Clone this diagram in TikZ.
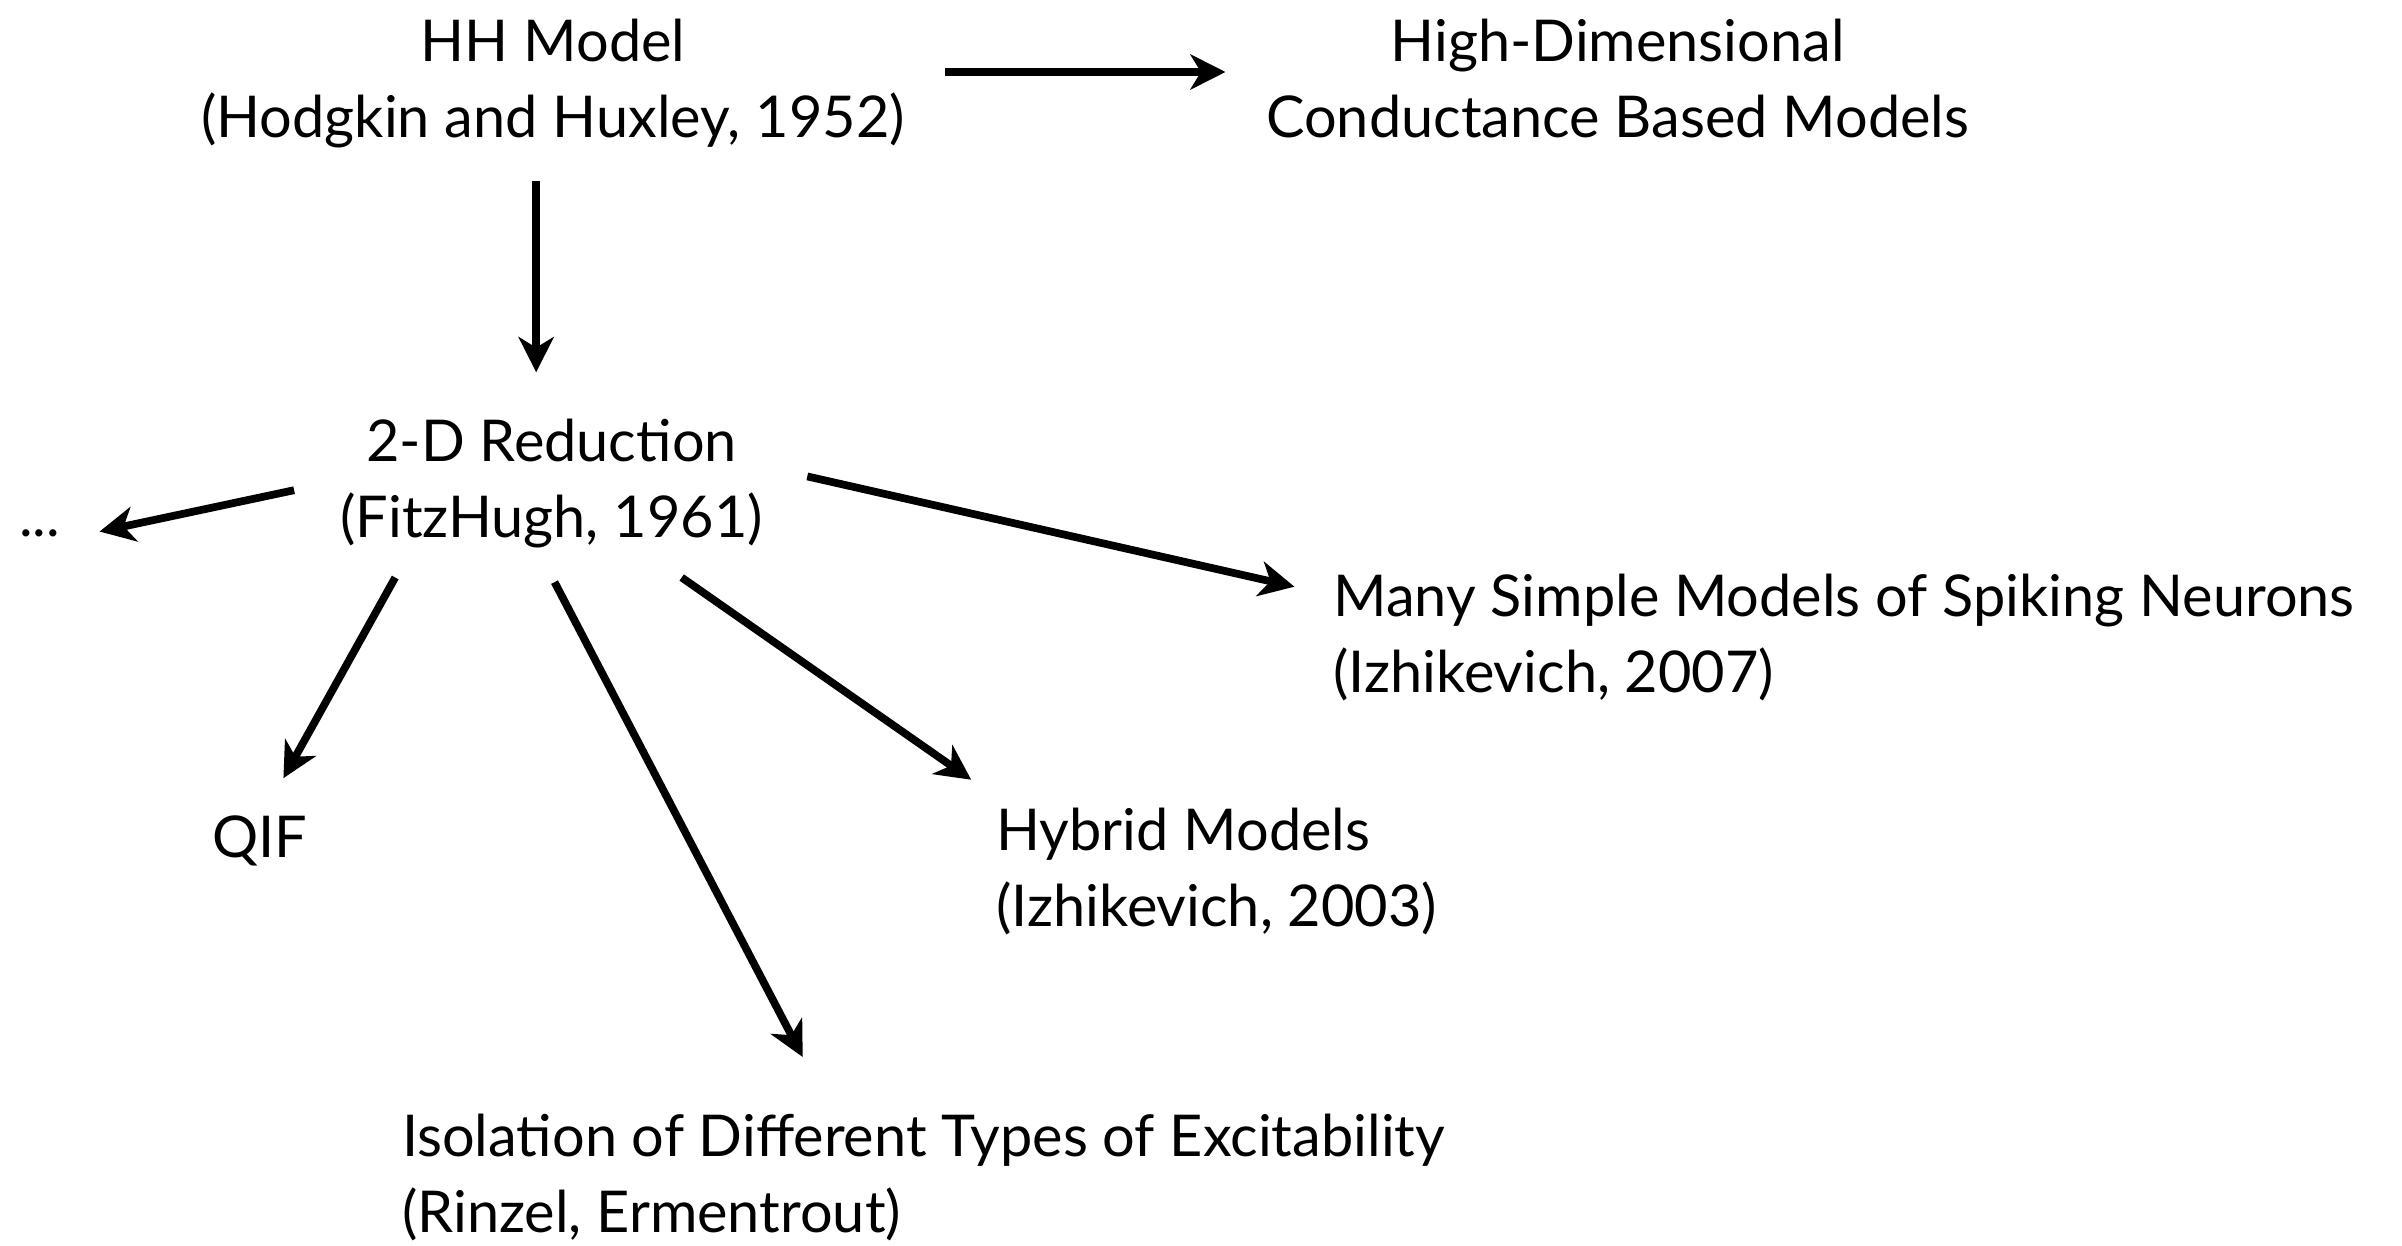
\documentclass[tikz,border=0pt]{standalone}
\usepackage{fontspec}
\setmainfont{Lato}
\usepackage{tikz}
\usetikzlibrary{arrows.meta,calc}

\begin{document}
\begin{tikzpicture}[x=0.15319mm,y=-0.15319mm,
		every node/.style={inner sep=0pt,font=\fontsize{16.4}{21.6}\selectfont},
		arr/.style={-{Stealth[length=10pt,width=10pt,inset=3pt]},line width=2.2pt}]
	\path[use as bounding box] (0,0) rectangle (1568,813);
	\node [anchor=north,align=center] (hh) at (361,12) {HH Model\\ (Hodgkin and Huxley, 1952)};
	\node [anchor=north,align=center] (hd) at (1056,12) {High-Dimensional\\ Conductance Based Models};
	\node [anchor=north,align=center] (red) at (360,273) {2-D Reduction\\ (FitzHugh, 1961)};
	\node [anchor=base west] (dots) at (12,350) {...};
	\node [anchor=base west] (qif) at (138,560) {QIF};
	\node [anchor=north west,align=left] (iso) at (262,727)
{Isolation of Different Types of Excitability\\ (Rinzel, Ermentrout)};
	\node [anchor=north west,align=left] (hyb) at (650,527) {Hybrid Models\\ (Izhikevich, 2003)};
	\node [anchor=north west,align=left] (many) at (870,374)
{Many Simple Models of Spiking Neurons\\ (Izhikevich, 2007)};

	\draw [arr] ($(hh.north)+(256,35)$) -- ($(hd.north)+(-256,35)$);
	\draw [arr] ($(hh.north)+(-11,106)$) -- ($(red.north)+(-10,-30)$);
	\draw [arr] ($(red.north)+(-168,47)$) -- ($(dots.base west)+(53,-3)$);
	\draw [arr] ($(red.north)+(-102,104)$) -- ($(qif.base west)+(47,-52)$);
	\draw [arr] ($(red.north)+(2,107)$) -- ($(iso.north west)+(262,-37)$);
	\draw [arr] ($(red.north)+(85,104)$) -- ($(hyb.north west)+(-16,-18)$);
	\draw [arr] ($(red.north)+(167,38)$) -- ($(many.north west)+(-25,9)$);
\end{tikzpicture}
\end{document}
